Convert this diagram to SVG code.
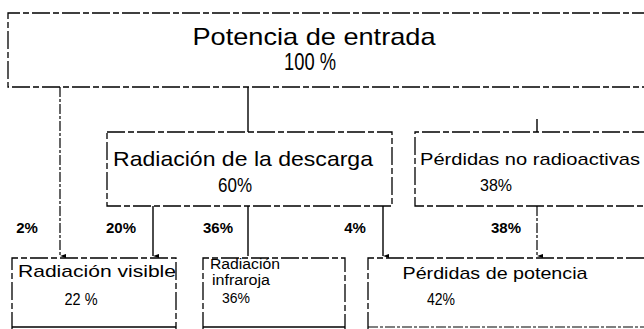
<svg xmlns="http://www.w3.org/2000/svg" width="644" height="329" viewBox="0 0 644 329">
<defs>
<marker id="arr" markerWidth="6" markerHeight="6" refX="3" refY="6" orient="auto" markerUnits="userSpaceOnUse">
<path d="M1,0 L3,6 L5,0 Z" fill="#000"/>
</marker>
<style>
.box{fill:#fff;stroke:#000;stroke-width:1.3;stroke-dasharray:18 3 6 3}
.ln{stroke:#000;stroke-width:1.4;fill:none}
.dl{stroke:#000;stroke-width:1.2;fill:none;stroke-dasharray:10 2 3 2}
text{font-family:"Liberation Sans","Open Sans",sans-serif;fill:#000;text-anchor:middle}
.t1{font-size:24px}
.t2{font-size:21px}
.t3{font-size:17px}
.t4{font-size:14px}
.p{font-size:15px;font-weight:bold}
</style>
</defs>
<rect width="644" height="329" fill="#fff"/>
<g id="connectors">
<path class="dl" d="M60,87 V256" marker-end="url(#arr)"/>
<path class="ln" d="M248,87 V132"/>
<path class="ln" d="M537,119 V132"/>
<path class="ln" d="M153,206 V256" marker-end="url(#arr)"/>
<path class="ln" d="M248,206 V256"/>
<path class="ln" d="M383,206 V256" marker-end="url(#arr)"/>
<path class="dl" d="M537,206 V256" marker-end="url(#arr)"/>
</g>
<g id="potencia-entrada">
<path class="box" d="M650,13 H8 V87 H650"/>
<text class="t1" x="314" y="45" textLength="243" lengthAdjust="spacingAndGlyphs">Potencia de entrada</text>
<text class="t1" x="310" y="70" textLength="52" lengthAdjust="spacingAndGlyphs">100 %</text>
</g>
<g id="radiacion-descarga">
<rect class="box" x="107" y="132" width="285" height="74"/>
<text class="t2" x="243" y="166" textLength="260" lengthAdjust="spacingAndGlyphs">Radiación de la descarga</text>
<text class="t2" x="235" y="192" textLength="34" lengthAdjust="spacingAndGlyphs">60%</text>
</g>
<g id="perdidas-no-radiactivas">
<path class="box" d="M650,132 H415 V206 H650"/>
<text class="t3" x="530" y="165" textLength="220" lengthAdjust="spacingAndGlyphs">Pérdidas no radioactivas</text>
<text class="t3" x="496" y="191" textLength="32" lengthAdjust="spacingAndGlyphs">38%</text>
</g>
<g id="radiacion-visible">
<path class="box" d="M12,330 V258 H176 V330"/>
<path class="ln" d="M12,327 H176"/>
<text class="t3" x="97" y="277" textLength="158" lengthAdjust="spacingAndGlyphs">Radiación visible</text>
<text class="t3" x="81" y="305" textLength="33" lengthAdjust="spacingAndGlyphs">22 %</text>
</g>
<g id="radiacion-infraroja">
<path class="box" d="M203,330 V258 H345 V330"/>
<path class="ln" d="M203,327 H345"/>
<text class="t4" x="245" y="269" textLength="70" lengthAdjust="spacingAndGlyphs">Radiación</text>
<text class="t4" x="241" y="285" textLength="58" lengthAdjust="spacingAndGlyphs">infraroja</text>
<text class="t4" x="236" y="303" textLength="28" lengthAdjust="spacingAndGlyphs">36%</text>
</g>
<g id="perdidas-potencia">
<path class="box" d="M368,330 V258 H650"/>
<path class="dl" d="M368,327 H644"/>
<text class="t3" x="495" y="279" textLength="185" lengthAdjust="spacingAndGlyphs">Pérdidas de potencia</text>
<text class="t3" x="441" y="305" textLength="28" lengthAdjust="spacingAndGlyphs">42%</text>
</g>
<g id="labels">
<text class="p" x="27" y="233">2%</text>
<text class="p" x="121" y="233">20%</text>
<text class="p" x="218" y="233">36%</text>
<text class="p" x="355" y="233">4%</text>
<text class="p" x="506" y="233">38%</text>
</g>
</svg>
